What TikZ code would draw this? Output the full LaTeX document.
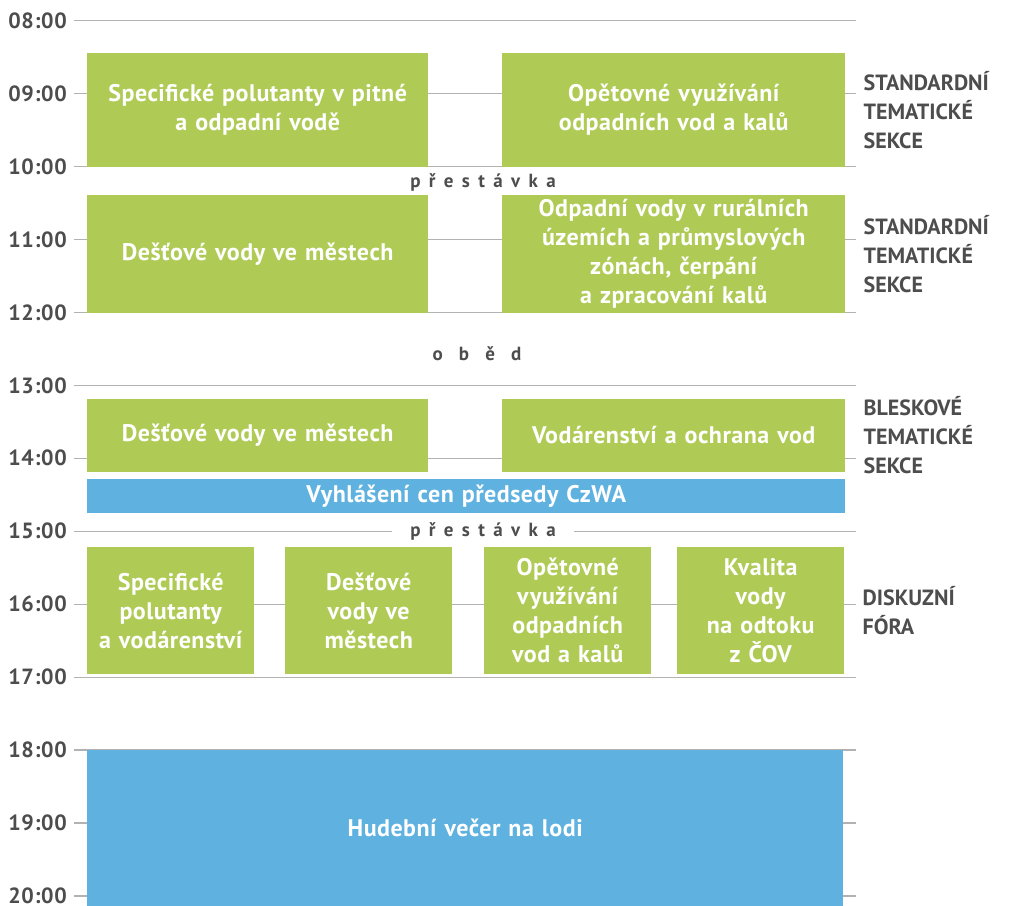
\documentclass[tikz,border=0pt]{standalone}
\usepackage{fontspec}
\setmainfont{PT Sans}
\usetikzlibrary{positioning}

\definecolor{sessiongreen}{RGB}{175,203,85}
\definecolor{eventblue}{RGB}{95,177,224}
\definecolor{labelgray}{RGB}{77,77,77}
\definecolor{rulegray}{RGB}{178,178,178}

\newcommand*\hourheight{72.95pt}
\newcommand*\boxfont{\bfseries\fontsize{24}{29}\selectfont\addfontfeature{LetterSpace=2}}
\newcommand*\sidefont{\bfseries\fontsize{22}{29}\selectfont}
\tikzset{entry/.style 2 args={
    rectangle,
    fill=sessiongreen,
    text=white,
    font=\boxfont,
    anchor=north west,
    inner xsep=6pt,
    inner ysep=0pt,
    text width={#2-12pt},
    minimum height=#1*\hourheight,
    align=center
}}
\tikzset{timelabel/.style={anchor=east, inner sep=0pt, text=labelgray,
    font=\bfseries\fontsize{22}{26}\selectfont\addfontfeature{LetterSpace=3}}}
\tikzset{sectionlabel/.style={inner sep=0pt, align=left, text=labelgray, font=\sidefont}}
\tikzset{breaklabel/.style={anchor=base, fill=white, inner xsep=18pt, inner ysep=3pt,
    text=labelgray, font=\bfseries\fontsize{19}{22}\selectfont\addfontfeature{LetterSpace=#1}}}
\tikzset{hourline/.style={draw=rulegray, line width=1.2pt}}

\begin{document}
\begin{tikzpicture}[y=-\hourheight,x=1pt]

    \useasboundingbox (0,7.718) rectangle (1011,20.137);

    % First print a list of times.
    \foreach \time/\clock in {8/08:00,9/09:00,10/10:00,11/11:00,12/12:00,13/13:00,14/14:00,15/15:00,16/16:00,17/17:00,18/18:00,19/19:00,20/20:00}
        \node[timelabel] (t\time) at (67,\time) {\clock};

    % Draw some hour dividers.
    \draw[hourline] (74,8) -- (856,8);
    \draw[hourline] (74,9) -- (856,9);
    \draw[hourline] (74,10) -- (856,10);
    \draw[hourline] (74,11) -- (856,11);
    \draw[hourline] (74,12) -- (856,12);
    \draw[hourline] (74,13) -- (856,13);
    \draw[hourline] (74,14) -- (856,14);
    \draw[hourline] (74,15) -- (856,15);
    \draw[hourline] (74,16) -- (856,16);
    \draw[hourline] (74,17) -- (856,17);
    \draw[hourline] (74,18) -- (856,18);
    \draw[hourline] (74,19) -- (856,19);
    \draw[hourline] (74,20) -- (856,20);

    % Morning sessions.
    %\node[entry={DURATION}{WIDTH}] at (LEFT,START) {TEXT};
    \node[entry={1.556}{341pt}] (l1) at (87,8.444) {Specifické polutanty v pitné\\a odpadní vodě};
    \node[entry={1.556}{343pt}] (r1) at (502,8.444) {Opětovné využívání\\odpadních vod a kalů};
    \node[sectionlabel, right=18pt of r1] (s1) {STANDARDNÍ\\TEMATICKÉ\\SEKCE};

    \node[breaklabel=44] (pause1) at (483,10.285) {přestávka};

    \node[entry={1.61}{341pt}] (l2) at (87,10.391) {Dešťové vody ve městech};
    \node[entry={1.61}{343pt}] (r2) at (502,10.391) {Odpadní vody v rurálních\\územích a průmyslových\\zónách, čerpání\\a zpracování kalů};
    \node[sectionlabel, right=18pt of r2] (s2) {STANDARDNÍ\\TEMATICKÉ\\SEKCE};

    \node[breaklabel=85] (lunch) at (477,12.662) {oběd};

    % Afternoon sessions.
    \node[entry={0.994}{341pt}] (l3) at (87,13.187) {Dešťové vody ve městech};
    \node[entry={0.994}{343pt}] (r3) at (502,13.187) {Vodárenství a ochrana vod};
    \node[sectionlabel, right=18pt of r3] (s3) {BLESKOVÉ\\TEMATICKÉ\\SEKCE};

    \node[entry={0.466}{758pt}, fill=eventblue] (award) at (87,14.284) {Vyhlášení cen předsedy CzWA};

    \node[breaklabel=44] (pause2) at (483,15.072) {přestávka};

    \node[entry={1.741}{167pt}] (f1) at (87,15.216) {Specifické\\polutanty\\a vodárenství};
    \node[entry={1.741}{167pt}] (f2) at (285,15.216) {Dešťové\\vody ve\\městech};
    \node[entry={1.741}{167pt}] (f3) at (484,15.216) {Opětovné\\využívání\\odpadních\\vod a kalů};
    \node[entry={1.741}{167pt}] (f4) at (677,15.216) {Kvalita\\vody\\na odtoku\\z ČOV};
    \node[sectionlabel, right=18pt of f4] (s4) {DISKUZNÍ\\FÓRA};

    % Evening.
    \node[entry={2.137}{756pt}, fill=eventblue] (evening) at (87,18) {Hudební večer na lodi};

\end{tikzpicture}
\end{document}
